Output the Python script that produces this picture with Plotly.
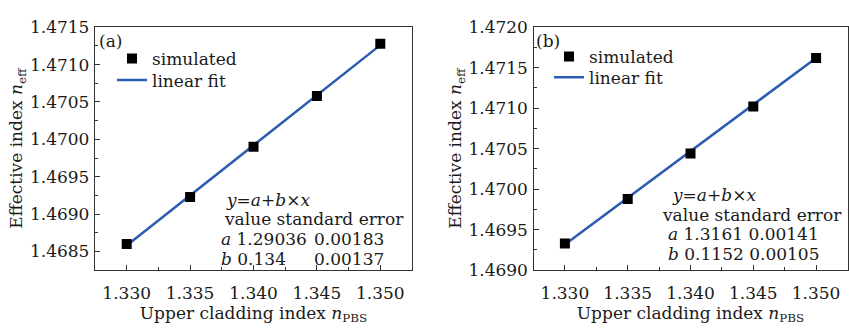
import plotly.graph_objects as go

# ---- data ----
x_vals = [1.330, 1.335, 1.340, 1.345, 1.350]
neff_a = [1.46860, 1.46923, 1.46990, 1.47058, 1.47128]
neff_b = [1.46933, 1.46988, 1.47044, 1.47102, 1.47162]
fit_a = {"a": 1.29036, "b": 0.134, "a_err": "0.00183", "b_err": "0.00137"}
fit_b = {"a": 1.3161, "b": 0.1152, "a_err": "0.00141", "b_err": "0.00105"}
x_ticks = [1.330, 1.335, 1.340, 1.345, 1.350]
x_ticklabels = ["1.330", "1.335", "1.340", "1.345", "1.350"]
y_ticks_a = [1.4685, 1.4690, 1.4695, 1.4700, 1.4705, 1.4710, 1.4715]
y_ticks_b = [1.4690, 1.4695, 1.4700, 1.4705, 1.4710, 1.4715, 1.4720]

FONT = "DejaVu Serif"
BLUE = "#2b5cb0"
TXT = "#1a1a1a"
W, H = 849, 329
FS = 17
TFS = 17

def fit_line(p):
    return [p["a"] + p["b"] * x for x in x_vals]

fig = go.Figure()
fig.add_trace(go.Scatter(x=x_vals, y=fit_line(fit_a), mode="lines",
                         line=dict(color=BLUE, width=2.5), name="linear fit",
                         xaxis="x", yaxis="y", legend="legend2"))
fig.add_trace(go.Scatter(x=x_vals, y=neff_a, mode="markers",
                         marker=dict(symbol="square", size=10, color="black"),
                         name="simulated", xaxis="x", yaxis="y", legend="legend"))
fig.add_trace(go.Scatter(x=x_vals, y=fit_line(fit_b), mode="lines",
                         line=dict(color=BLUE, width=2.5), name="linear fit",
                         xaxis="x2", yaxis="y2", legend="legend4"))
fig.add_trace(go.Scatter(x=x_vals, y=neff_b, mode="markers",
                         marker=dict(symbol="square", size=10, color="black"),
                         name="simulated", xaxis="x2", yaxis="y2", legend="legend3"))

def px_x(p):
    return p / W

def px_y(p):
    return 1 - p / H

axis_common = dict(showline=True, mirror=True, linecolor="#333", linewidth=1.4,
                   ticks="inside", ticklen=5, tickcolor="#333", tickwidth=1.2,
                   showgrid=False, zeroline=False,
                   tickfont=dict(family=FONT, size=TFS, color=TXT))

xdom_a = [px_x(95), px_x(412)]
xdom_b = [px_x(533.5), px_x(847.5)]
ydom = [px_y(277), px_y(18.3)]

xtitle = dict(text="Upper cladding index <i>n</i><sub>PBS</sub>",
              font=dict(family=FONT, size=FS, color=TXT), standoff=0)
ytitle = dict(text="Effective index <i>n</i><sub>eff</sub>",
              font=dict(family=FONT, size=FS, color=TXT), standoff=2)

def legend_at(xp, yp):
    return dict(x=px_x(xp), y=px_y(yp), xanchor="left", yanchor="middle",
                bgcolor="rgba(0,0,0,0)", font=dict(family=FONT, size=FS, color=TXT),
                tracegroupgap=0, itemwidth=30)

fig.update_layout(
    width=W, height=H, margin=dict(l=0, r=0, t=0, b=0),
    paper_bgcolor="white", plot_bgcolor="white",
    xaxis=dict(domain=xdom_a, range=[1.3275, 1.3525], tickvals=x_ticks, ticktext=x_ticklabels,
               minor=dict(ticks="inside", ticklen=3, dtick=0.0025, tick0=1.3275, tickcolor="#333"),
               title=xtitle, anchor="y", ticklabelstandoff=7, **axis_common),
    yaxis=dict(domain=ydom, range=[1.46825, 1.4715], tickvals=y_ticks_a,
               ticktext=[f"{v:.4f}" for v in y_ticks_a],
               minor=dict(ticks="inside", ticklen=3, dtick=0.00025, tick0=1.46825, tickcolor="#333"),
               title=ytitle, anchor="x", ticklabelstandoff=1, **axis_common),
    xaxis2=dict(domain=xdom_b, range=[1.3275, 1.3525], tickvals=x_ticks, ticktext=x_ticklabels,
                minor=dict(ticks="inside", ticklen=3, dtick=0.0025, tick0=1.3275, tickcolor="#333"),
                title=xtitle, anchor="y2", ticklabelstandoff=7, **axis_common),
    yaxis2=dict(domain=ydom, range=[1.4690, 1.4720], tickvals=y_ticks_b,
                ticktext=[f"{v:.4f}" for v in y_ticks_b],
                minor=dict(ticks="inside", ticklen=3, dtick=0.00025, tick0=1.4690, tickcolor="#333"),
                title=ytitle, anchor="x2", ticklabelstandoff=1, **axis_common),
    legend=legend_at(112, 52),
    legend2=legend_at(112, 75),
    legend3=legend_at(549, 50),
    legend4=legend_at(549, 72),
    showlegend=True,
)

ann_font = dict(family=FONT, size=FS, color=TXT)

def add_text(text, xp, yp, anchor="left"):
    fig.add_annotation(text=text, x=px_x(xp), y=px_y(yp), xref="paper", yref="paper",
                       xanchor=anchor, yanchor="middle", showarrow=False, font=ann_font)

# panel labels
add_text("(a)", 97, 33)
add_text("(b)", 534, 33)

# fit info panel a
add_text("<i>y</i>=<i>a</i>+<i>b</i>×<i>x</i>", 224, 202)
add_text("value standard error", 222, 223)
add_text(f"<i>a</i> {fit_a['a']:.5f}", 219, 244)
add_text(fit_a["a_err"], 386, 244, "right")
add_text(f"<i>b</i> {fit_a['b']:.3f}", 219, 265)
add_text(fit_a["b_err"], 386, 265, "right")

# fit info panel b
add_text("<i>y</i>=<i>a</i>+<i>b</i>×<i>x</i>", 670, 197)
add_text("value standard error", 660, 218)
add_text(f"<i>a</i> {fit_b['a']:.4f} {fit_b['a_err']}", 666, 239)
add_text(f"<i>b</i> {fit_b['b']:.4f} {fit_b['b_err']}", 666, 260)

fig.write_html("out.html")
